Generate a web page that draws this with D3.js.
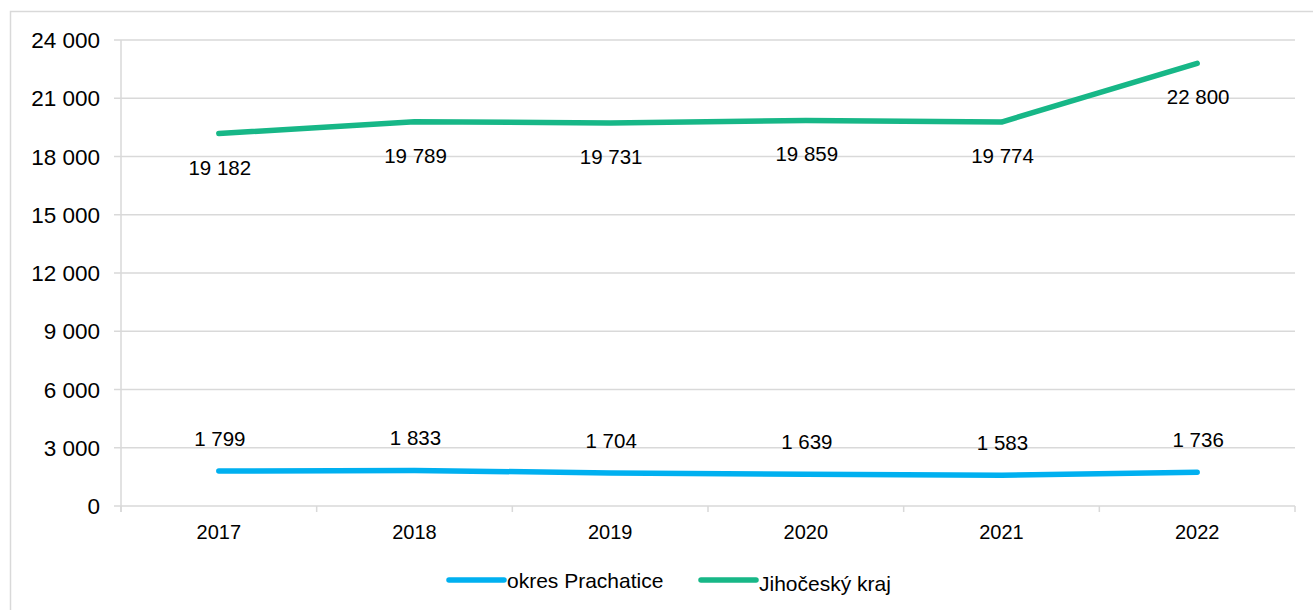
<!DOCTYPE html>
<html>
<head>
<meta charset="utf-8">
<script src="https://cdn.jsdelivr.net/npm/d3@7"></script>
<style>
  body { margin: 0; background: #fff; }
  text { font-family: "Liberation Sans", Arial, sans-serif; fill: #000; }
</style>
</head>
<body>
<div id="chart"></div>
<script>
var years = ["2017", "2018", "2019", "2020", "2021", "2022"];
var prachatice = [1799, 1833, 1704, 1639, 1583, 1736];
var jihocesky = [19182, 19789, 19731, 19859, 19774, 22800];
var yTicks = [0, 3000, 6000, 9000, 12000, 15000, 18000, 21000, 24000];
var seriesNames = ["okres Prachatice", "Jihočeský kraj"];
var seriesColors = ["#00b0f0", "#17b787"];

var w = 1313;
var h = 610;
var plotLeft = 121, plotRight = 1295, plotTop = 40, plotBottom = 506;

var fmt = d3.formatLocale({decimal: ",", thousands: " ", grouping: [3], currency: ["", ""]}).format(",d");

var svg = d3.select("#chart")
            .append("svg")
            .attr("width", w)
            .attr("height", h);

// outer frame
svg.append("rect")
   .attr("x", 10.5)
   .attr("y", 11.5)
   .attr("width", w)
   .attr("height", h)
   .attr("fill", "none")
   .attr("stroke", "#d9d9d9")
   .attr("stroke-width", 1.5);

var xScale = d3.scaleBand()
               .domain(years)
               .range([plotLeft, plotRight]);

var yScale = d3.scaleLinear()
               .domain([0, 24000])
               .range([plotBottom, plotTop]);

// gridlines
svg.append("g")
   .selectAll("line")
   .data(yTicks)
   .enter()
   .append("line")
   .attr("x1", plotLeft - 7)
   .attr("x2", plotRight)
   .attr("y1", function(d) { return yScale(d); })
   .attr("y2", function(d) { return yScale(d); })
   .attr("stroke", "#d9d9d9")
   .attr("stroke-width", 1.5);

// y axis line
svg.append("line")
   .attr("x1", plotLeft).attr("x2", plotLeft)
   .attr("y1", plotTop).attr("y2", plotBottom + 6)
   .attr("stroke", "#d9d9d9")
   .attr("stroke-width", 1.5);

// x tick marks at band edges
var edges = years.map(function(d) { return xScale(d); }).concat([plotRight]);
svg.append("g")
   .selectAll("line")
   .data(edges)
   .enter()
   .append("line")
   .attr("x1", function(d) { return d; })
   .attr("x2", function(d) { return d; })
   .attr("y1", plotBottom)
   .attr("y2", plotBottom + 6)
   .attr("stroke", "#d9d9d9")
   .attr("stroke-width", 1.5);

// y labels
svg.append("g")
   .selectAll("text")
   .data(yTicks)
   .enter()
   .append("text")
   .attr("x", 100)
   .attr("y", function(d) { return yScale(d); })
   .attr("dy", "0.36em")
   .attr("text-anchor", "end")
   .style("font-size", "22.5px")
   .text(function(d) { return fmt(d); });

// x labels
svg.append("g")
   .selectAll("text")
   .data(years)
   .enter()
   .append("text")
   .attr("x", function(d) { return xScale(d) + xScale.bandwidth() / 2; })
   .attr("y", 539)
   .attr("text-anchor", "middle")
   .style("font-size", "20px")
   .text(function(d) { return d; });

var line = d3.line()
             .x(function(d, i) { return xScale(years[i]) + xScale.bandwidth() / 2; })
             .y(function(d) { return yScale(d); });

var allSeries = [prachatice, jihocesky];

svg.append("g")
   .selectAll("path")
   .data(allSeries)
   .enter()
   .append("path")
   .attr("d", line)
   .attr("fill", "none")
   .attr("stroke", function(d, i) { return seriesColors[i]; })
   .attr("stroke-width", 5.5)
   .attr("stroke-linecap", "round")
   .attr("stroke-linejoin", "round");

// data labels: above for Prachatice, below for the region
allSeries.forEach(function(series, si) {
  svg.append("g")
     .selectAll("text")
     .data(series)
     .enter()
     .append("text")
     .attr("x", function(d, i) { return xScale(years[i]) + xScale.bandwidth() / 2 + 1; })
     .attr("y", function(d) { return si == 0 ? yScale(d) - 25 : yScale(d) + 41; })
     .attr("text-anchor", "middle")
     .style("font-size", "20.5px")
     .text(function(d) { return fmt(d); });
});

// legend
var legendX = [449, 701];
var legend = svg.append("g")
                .selectAll("g")
                .data(seriesNames)
                .enter()
                .append("g");

legend.append("line")
      .attr("x1", function(d, i) { return legendX[i]; })
      .attr("x2", function(d, i) { return legendX[i] + 55; })
      .attr("y1", 580)
      .attr("y2", 580)
      .attr("stroke", function(d, i) { return seriesColors[i]; })
      .attr("stroke-width", 5.5)
      .attr("stroke-linecap", "round");

legend.append("text")
      .attr("x", function(d, i) { return legendX[i] + 58; })
      .attr("y", function(d, i) { return i == 0 ? 588 : 591; })
      .style("font-size", "21px")
      .text(function(d) { return d; });
</script>
</body>
</html>
